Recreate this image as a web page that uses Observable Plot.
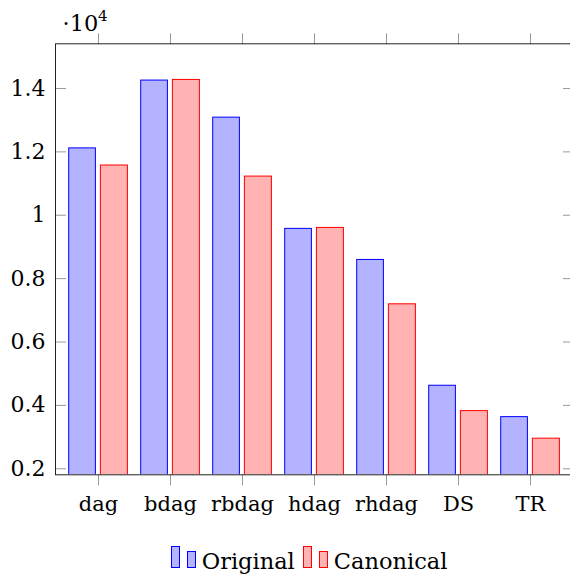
<!DOCTYPE html>
<html>
<head>
<meta charset="utf-8">
<script src="https://cdn.jsdelivr.net/npm/d3@7"></script>
<script src="https://cdn.jsdelivr.net/npm/@observablehq/plot@0.6"></script>
<style>
  html, body { margin: 0; padding: 0; background: #fff; overflow: hidden; width: 570px; height: 576px; }
  #wrap { position: relative; width: 576px; }
  #legend { position: absolute; left: 170.7px; top: 545px; display: flex; align-items: flex-end; font-family: "DejaVu Serif", serif; font-size: 22.5px; line-height: 1; color: #000; }
  .sw { display: inline-block; width: 7px; box-sizing: content-box; }
  .tall { height: 20px; }
  .short { height: 14.5px; }
  .lbl { margin-left: 6px; margin-right: 8px; position: relative; top: 5px; }
</style>
</head>
<body>
<div id="wrap"></div>
<script>
const categories = ["dag", "bdag", "rbdag", "hdag", "rhdag", "DS", "TR"];
const original = [12110, 14250, 13080, 9570, 8590, 4620, 3630];
const canonical = [11570, 14270, 11220, 9600, 7190, 3820, 2950];
const yTicks = [2000, 4000, 6000, 8000, 10000, 12000, 14000];
const seriesNames = ["Original", "Canonical"];

const font = '"DejaVu Serif", serif';
const tickGray = "#9a9a9a";

const chart = Plot.plot({
  width: 576,
  height: 525,
  marginLeft: 55,
  marginRight: 3,
  marginTop: 43.3,
  marginBottom: 50.7,
  style: { fontFamily: font, fontSize: "21px", color: "#000", background: "#fff", overflow: "visible" },
  x: { type: "band", domain: categories, paddingInner: 0, paddingOuter: 0.097, axis: null },
  y: { domain: [1810, 15410], axis: null },
  marks: [
    Plot.barY(categories, {
      x: d => d, y: (d, i) => original[i],
      insetLeft: 6.7, insetRight: 38.6,
      fill: "#b3b3ff", stroke: "#0000ff", strokeWidth: 1, clip: true
    }),
    Plot.barY(categories, {
      x: d => d, y: (d, i) => canonical[i],
      insetLeft: 38.4, insetRight: 6.6,
      fill: "#ffb3b3", stroke: "#ff0000", strokeWidth: 1, clip: true
    }),
    // y ticks inward, left and right
    Plot.axisY({ anchor: "left", ticks: yTicks, tickSize: -11, fill: "none", stroke: tickGray, strokeWidth: 1 }),
    Plot.axisY({ anchor: "right", ticks: yTicks, tickSize: -11, fill: "none", stroke: tickGray, strokeWidth: 1 }),
    Plot.axisY({ anchor: "left", ticks: yTicks, tickSize: 0, tickPadding: 10, tickFormat: d => String(d / 1e4), label: null, fontSize: 22 }),
    // x ticks outward, top and bottom
    Plot.axisX({ anchor: "top", tickSize: 11, fill: "none", stroke: tickGray, strokeWidth: 1 }),
    Plot.axisX({ anchor: "bottom", tickSize: 11, fill: "none", stroke: tickGray, strokeWidth: 1 }),
    Plot.axisX({ anchor: "bottom", tickSize: 0, tickPadding: 21, label: null, fontSize: 21 }),
    Plot.frame({ stroke: "#222", strokeWidth: 1 }),
    Plot.text(["·10"], { frameAnchor: "top-left", text: d => d, textAnchor: "start", lineAnchor: "bottom", dx: 7, dy: -13.3, fontSize: 22.5 }),
    Plot.text(["4"], { frameAnchor: "top-left", text: d => d, textAnchor: "start", lineAnchor: "bottom", dx: 42.5, dy: -22.5, fontSize: 15 })
  ]
});

const wrap = document.getElementById("wrap");
wrap.appendChild(chart);

const legend = document.createElement("div");
legend.id = "legend";
const styles = [
  { fill: "#b3b3ff", stroke: "#0000ff" },
  { fill: "#ffb3b3", stroke: "#ff0000" }
];
seriesNames.forEach((name, i) => {
  const s = styles[i];
  const a = document.createElement("span");
  a.className = "sw tall";
  a.style.background = s.fill; a.style.border = `1px solid ${s.stroke}`;
  const b = document.createElement("span");
  b.className = "sw short";
  b.style.background = s.fill; b.style.border = `1px solid ${s.stroke}`;
  b.style.marginLeft = "7px";
  const t = document.createElement("span");
  t.className = "lbl";
  t.textContent = name;
  legend.append(a, b, t);
});
wrap.appendChild(legend);
</script>
</body>
</html>
